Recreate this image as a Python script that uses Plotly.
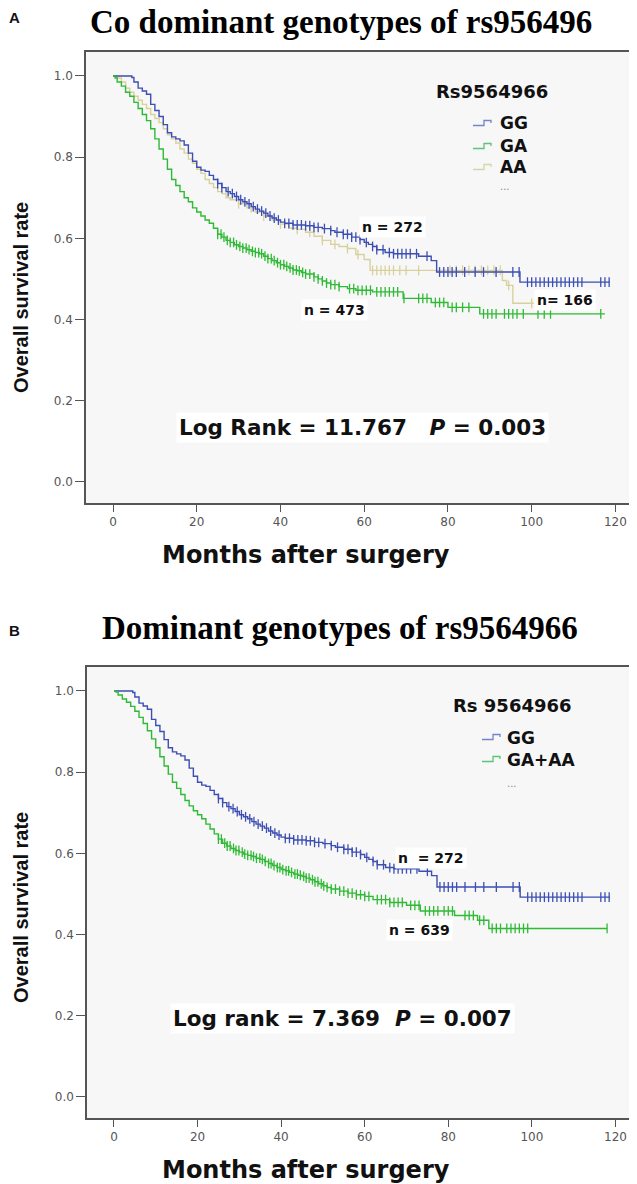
import numpy as np
import plotly.graph_objects as go

# ---------------- data ----------------
MONTH_TICKS = [0, 20, 40, 60, 80, 100, 120]
SURV_TICKS = [0.0, 0.2, 0.4, 0.6, 0.8, 1.0]
SURV_TICK_TEXT = ["0.0", "0.2", "0.4", "0.6", "0.8", "1.0"]

# GG (n = 272) - used in both panels
GG_T = [0, 4.5, 5, 6, 7, 8, 9, 10, 11, 12, 13, 14, 15, 16, 17, 18, 19, 20, 21, 22, 23, 24, 25, 26, 27,
        28, 29, 30, 31, 32, 33, 34, 35, 36, 37, 38, 39, 40, 41, 43, 46, 48, 50, 52, 53, 55, 57, 59,
        60, 61, 62, 63, 65, 67, 73, 76, 77.3, 97.2, 118.7]
GG_S = [1.0, 0.996, 0.985, 0.97, 0.963, 0.955, 0.93, 0.915, 0.9, 0.88, 0.86, 0.85, 0.845, 0.84, 0.83,
        0.81, 0.79, 0.775, 0.768, 0.765, 0.755, 0.745, 0.735, 0.725, 0.715, 0.71, 0.703, 0.695, 0.69,
        0.685, 0.678, 0.672, 0.667, 0.662, 0.655, 0.65, 0.645, 0.64, 0.637, 0.633, 0.631, 0.627, 0.624,
        0.619, 0.615, 0.61, 0.603, 0.597, 0.59, 0.585, 0.58, 0.572, 0.565, 0.562, 0.556, 0.545, 0.517,
        0.492, 0.492]
GG_C = [25, 26, 27.5, 28.5, 29.5, 30.5, 31.5, 32.5, 33.5, 34.5, 35.5, 36.5, 37.5, 38.5, 39.5, 41, 42,
        43, 44, 45, 46, 47, 48, 49, 50.5, 52, 53.5, 55, 56, 57, 58, 59, 60.5, 62, 63, 64.5, 66, 67, 68,
        69, 70, 71, 72.5, 75, 78, 79, 80, 81, 82, 84, 86.5, 88.5, 91.5, 95.5, 97, 99, 100, 101, 102,
        103, 104, 105, 106, 107, 108, 109, 110, 111, 112, 116.5, 117.5, 118.5]

# GA (n = 473) - panel A
GA_T = [0, 0.5, 1, 2, 3, 4, 5, 6, 7, 8, 9, 10, 11, 12, 13, 14, 15, 16, 17, 18, 19, 20, 21, 22, 23, 24,
        25, 26, 27, 28, 29, 30, 31, 32, 33, 34, 35, 36, 37, 38, 39, 40, 41, 42, 43, 44, 45, 46, 48, 49,
        50, 51, 52, 54, 56, 58, 62, 69.3, 76, 80, 87.6, 117.5]
GA_S = [1.0, 0.995, 0.985, 0.975, 0.96, 0.95, 0.935, 0.92, 0.905, 0.89, 0.87, 0.845, 0.82, 0.795, 0.77,
        0.745, 0.73, 0.715, 0.70, 0.69, 0.675, 0.665, 0.655, 0.645, 0.637, 0.625, 0.61, 0.603, 0.595,
        0.59, 0.584, 0.58, 0.576, 0.572, 0.568, 0.565, 0.562, 0.556, 0.55, 0.545, 0.54, 0.535, 0.531,
        0.527, 0.522, 0.52, 0.516, 0.512, 0.505, 0.5, 0.495, 0.49, 0.486, 0.481, 0.476, 0.472, 0.468,
        0.452, 0.442, 0.43, 0.414, 0.414]
GA_C = [25, 25.8, 26.5, 27.3, 28, 28.8, 29.5, 30.3, 31, 31.8, 32.5, 33.3, 34, 34.8, 35.5, 36.3, 37,
        37.8, 38.5, 39.3, 40, 40.8, 41.5, 42.3, 43, 43.8, 44.5, 45.3, 46, 47, 48, 49, 50, 51, 52, 53, 54,
        56.5, 57.5, 58.5, 59.5, 60.5, 61.5, 63, 64, 65, 66, 67, 68, 69.5, 73, 74, 75, 77, 78, 79, 81,
        82, 83.5, 85, 88.5, 89.5, 90.5, 91.5, 93.5, 94.5, 95.5, 96.5, 98, 101.5, 103, 104.5, 116.5]

# AA (n = 166) - panel A
AA_T = [0, 1, 2, 3, 4, 5, 6, 7, 8, 9, 10, 11, 12, 13, 14, 15, 16, 17, 18, 19, 20, 21, 22, 23, 24, 25,
        26, 27, 28, 30, 32, 34, 36, 38, 40, 42, 44, 46, 48, 50, 52, 54, 56, 58, 60, 61.4, 93, 94, 95.5,
        100.5]
AA_S = [1.0, 0.995, 0.985, 0.97, 0.96, 0.95, 0.94, 0.93, 0.92, 0.905, 0.895, 0.885, 0.87, 0.855, 0.845,
        0.835, 0.82, 0.81, 0.795, 0.785, 0.77, 0.76, 0.745, 0.735, 0.725, 0.715, 0.71, 0.70, 0.695,
        0.685, 0.675, 0.665, 0.655, 0.645, 0.635, 0.625, 0.622, 0.615, 0.605, 0.595, 0.585, 0.58, 0.575,
        0.56, 0.548, 0.521, 0.496, 0.484, 0.44, 0.44]
AA_C = [30, 33, 36, 40, 44, 47, 50, 53, 56, 58.5, 62, 63, 64, 65, 66, 67, 68.5, 70, 73, 80.5, 82, 83.5,
        85, 86.5, 88, 89.5, 91, 92.5, 94.5, 100]

# GA+AA (n = 639) - panel B
GAAA_T = [0, 0.5, 1, 2, 3, 4, 5, 6, 7, 8, 9, 10, 11, 12, 13, 14, 15, 16, 17, 18, 19, 20, 21, 22, 23,
          24, 25, 26, 27, 28, 29, 30, 31, 32, 33, 34, 35, 36, 37, 38, 39, 40, 41, 42, 43, 44, 45, 46,
          47, 48, 49, 50, 51, 52, 54, 56, 58, 60, 62, 66, 70, 73.3, 81.5, 87, 89.7, 118]
GAAA_S = [1.0, 0.997, 0.99, 0.98, 0.972, 0.962, 0.95, 0.935, 0.92, 0.902, 0.882, 0.86, 0.838, 0.815,
          0.795, 0.775, 0.76, 0.745, 0.73, 0.717, 0.705, 0.695, 0.685, 0.672, 0.66, 0.648, 0.635,
          0.625, 0.618, 0.612, 0.607, 0.603, 0.598, 0.595, 0.592, 0.588, 0.585, 0.58, 0.575, 0.57,
          0.565, 0.56, 0.557, 0.553, 0.549, 0.546, 0.543, 0.539, 0.535, 0.53, 0.525, 0.52, 0.516,
          0.512, 0.507, 0.502, 0.498, 0.494, 0.486, 0.479, 0.472, 0.458, 0.447, 0.435, 0.415, 0.415]
GAAA_C = [25, 25.7, 26.5, 27.1, 27.8, 28.6, 29.2, 29.9, 30.7, 31.3, 32, 32.8, 33.4, 34.1, 34.9, 35.5,
          36.2, 37, 37.6, 38.3, 39.1, 39.7, 40.4, 41.2, 41.8, 42.5, 43.3, 43.9, 44.6, 45.4, 46, 46.7,
          47.5, 48.1, 48.8, 49.6, 50.2, 51, 52, 53, 54, 55, 56, 57, 58, 59, 60, 61, 63, 64, 65, 66, 67,
          68, 69, 71, 72, 73, 74.5, 75.5, 76.5, 77.5, 79, 80, 81, 84, 85, 86, 87.5, 88.5, 90.5, 91.5,
          92.5, 94, 95, 96, 97, 98, 99, 118]

# ---------------- styles ----------------
OFF = 8                      # default page margin of the html body
W, H = 637 - OFF, 1184 - OFF  # figure size so the page fits the window
BLUE, GREEN, BEIGE = "#3d4fb3", "#2fba35", "#d9d19c"
BLUE_L, GREEN_L, BEIGE_L = "#7584cc", "#5cc27c", "#d3d6a6"


def px(x):
    return (x - OFF) / W


def py(y):
    return 1 - (y - OFF) / H


def step_at(T, S, t):
    T = np.asarray(T)
    S = np.asarray(S)
    idx = np.searchsorted(T, t, side="right") - 1
    return S[np.clip(idx, 0, len(S) - 1)]


fig = go.Figure()


def add_curve(T, S, C, color, xa, ya):
    fig.add_trace(go.Scatter(x=T, y=S, mode="lines", line=dict(color=color, width=1.4, shape="hv"),
                             xaxis=xa, yaxis=ya, showlegend=False, hoverinfo="skip"))
    fig.add_trace(go.Scatter(x=C, y=step_at(T, S, C), mode="markers",
                             marker=dict(symbol="line-ns-open", size=7, color=color,
                                         line=dict(color=color, width=1.3)),
                             xaxis=xa, yaxis=ya, showlegend=False, hoverinfo="skip"))


# panel A
add_curve(AA_T, AA_S, AA_C, BEIGE, "x", "y")
add_curve(GG_T, GG_S, GG_C, BLUE, "x", "y")
add_curve(GA_T, GA_S, GA_C, GREEN, "x", "y")
# panel B
add_curve(GG_T, GG_S, GG_C, BLUE, "x2", "y2")
add_curve(GAAA_T, GAAA_S, GAAA_C, GREEN, "x2", "y2")

XRANGE = [-6.45, 124.2]
YRANGE = [-0.052, 1.059]
ax_common = dict(showline=True, mirror=True, linecolor="#555555", linewidth=1.5, showgrid=False,
                 zeroline=False, ticks="outside", tickcolor="#555555", tickwidth=1.2,
                 tickfont=dict(family="DejaVu Sans", size=12, color="#555555"))
xa = dict(ax_common, range=XRANGE, tickvals=MONTH_TICKS, ticklen=7)
ya = dict(ax_common, range=YRANGE, tickvals=SURV_TICKS, ticktext=SURV_TICK_TEXT, ticklen=9)

fig.update_layout(
    width=W, height=H, margin=dict(l=0, r=0, t=0, b=0),
    paper_bgcolor="white", plot_bgcolor="#f7f7f7",
    xaxis=dict(xa, domain=[px(86), px(633)], anchor="y"),
    yaxis=dict(ya, domain=[py(503), py(52)], anchor="x"),
    xaxis2=dict(xa, domain=[px(87), px(633)], anchor="y2"),
    yaxis2=dict(ya, domain=[py(1118), py(667)], anchor="x2"),
)

ann = []


def text(x, y, s, size, family="DejaVu Sans", color="#111111", xanchor="center", angle=0, bg=None):
    d = dict(x=px(x), y=py(y), xref="paper", yref="paper", text=s, showarrow=False,
             xanchor=xanchor, yanchor="middle", textangle=angle,
             font=dict(family=family, size=size, color=color))
    if bg:
        d.update(bgcolor=bg, borderpad=2)
    ann.append(d)


# panel labels and titles
text(15, 18, "<b>A</b>", 15, family="Liberation Sans")
text(15, 630, "<b>B</b>", 15, family="Liberation Sans")
text(341, 22, "<b>Co dominant genotypes of rs956496</b>", 33, family="Liberation Serif", color="#000000")
text(340, 628, "<b>Dominant genotypes of rs9564966</b>", 33, family="Liberation Serif", color="#000000")

# axis titles
for yc in (298, 908):
    text(21, yc, "<b>Overall survival rate</b>", 20, family="Liberation Sans", angle=-90)
for yc in (555, 1170):
    text(306, yc, "<b>Months after surgery</b>", 24)

# legend panel A
text(492, 92, "<b>Rs9564966</b>", 18)
for lab, yc in (("GG", 123), ("GA", 146), ("AA", 167)):
    text(498, yc, "<b>%s</b>" % lab, 17, xanchor="left")
text(505, 186, "...", 10, color="#888888")
# legend panel B
text(512, 705, "<b>Rs 9564966</b>", 18)
text(505, 738, "<b>GG</b>", 17, xanchor="left")
text(505, 760, "<b>GA+AA</b>", 17, xanchor="left")
text(512, 783, "...", 10, color="#888888")

# n labels
text(392, 227, "<b>n = 272</b>", 14, bg="white")
text(334, 310, "<b>n = 473</b>", 14, bg="white")
text(565, 300, "<b>n= 166</b>", 14, bg="white")
text(431, 858, "<b>n  = 272</b>", 14, bg="white")
text(419, 930, "<b>n = 639</b>", 14, bg="white")

# log rank
text(362, 427, "<b>Log Rank = 11.767   <i>P</i> = 0.003</b>", 21.5, bg="white")
text(342, 1018, "<b>Log rank = 7.369  <i>P</i> = 0.007</b>", 21.5, bg="white")

fig.update_layout(annotations=ann)

# legend glyphs (step symbols)
shapes = []


def glyph(x0, yc, color):
    path = "M {} {} L {} {} L {} {} L {} {} L {} {}".format(
        px(x0), py(yc + 2.5), px(x0 + 11), py(yc + 2.5), px(x0 + 11), py(yc - 2.5),
        px(x0 + 18), py(yc - 2.5), px(x0 + 18), py(yc))
    shapes.append(dict(type="path", path=path, xref="paper", yref="paper",
                       line=dict(color=color, width=1.3)))


glyph(473, 123, BLUE_L)
glyph(473, 146, GREEN_L)
glyph(473, 167, BEIGE_L)
glyph(482, 737, BLUE_L)
glyph(482, 759, GREEN_L)
fig.update_layout(shapes=shapes)

fig.write_html("out.html")
